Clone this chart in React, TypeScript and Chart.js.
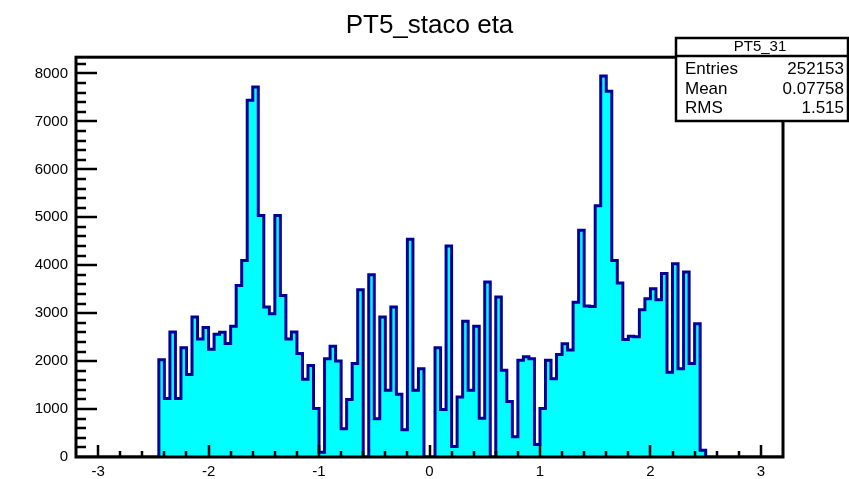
import { useEffect, useRef } from 'react';
import { Chart, registerables } from 'chart.js';

Chart.register(...registerables);

// Histogram "PT5_staco eta": 0.05-wide bins, first filled bin starts at -2.45
const histTitle = 'PT5_staco eta';
const binLow = -2.45;
const binWidth = 0.05;
const counts = [
  2030, 1220, 2610, 1220, 2280, 1720, 2920, 2460, 2700, 2250,
  2560, 2600, 2370, 2730, 3580, 4100, 7440, 7720, 5040, 3130,
  2990, 5040, 3370, 2460, 2610, 2160, 1620, 1910, 1010, 100,
  2050, 2310, 2000, 590, 1200, 1950, 3490, 0, 3800, 800,
  2920, 1390, 3130, 1310, 570, 4540, 1390, 1840, 0, 0,
  2280, 990, 4400, 220, 1250, 2830, 1390, 2730, 810, 3650,
  0, 3340, 1810, 1160, 420, 2020, 2090, 2050, 260, 1010,
  2020, 1630, 2140, 2360, 2230, 3230, 4730, 3150, 3140, 5240,
  7950, 7630, 4100, 3630, 2450, 2520, 2510, 3070, 3300, 3510,
  3280, 3830, 1770, 4030, 1840, 3860, 1950, 2780, 140,
];

// Axis ranges and labelled ticks
const xMin = -3.2;
const xMax = 3.2;
const yMin = 0;
const yMax = 8340;
const xMajorStep = 1;
const xMinorStep = 0.2;
const yMajorStep = 1000;
const yMinorStep = 200;
const yTickLabels = [0, 1000, 2000, 3000, 4000, 5000, 6000, 7000, 8000];

// Statistics box
const statName = 'PT5_31';
const statLabels = ['Entries', 'Mean', 'RMS'];
const statValues = ['252153', '0.07758', '1.515'];

const FONT = "'Liberation Sans', Arial, Helvetica, sans-serif";
const LINE_COLOR = '#000099';
const FILL_COLOR = '#00ffff';

// Step outline points: each point holds its bin value until the next edge
function buildPoints() {
  const pts: { x: number; y: number }[] = [{ x: xMin, y: 0 }];
  counts.forEach((c, i) => pts.push({ x: binLow + i * binWidth, y: c }));
  pts.push({ x: binLow + counts.length * binWidth, y: 0 });
  pts.push({ x: xMax, y: 0 });
  return pts;
}

// Frame, inward ticks and the statistics box, drawn on top of the histogram
const rootFrame = {
  id: 'rootFrame',
  afterDatasetsDraw(chart: any) {
    const { ctx, chartArea: a, scales } = chart;
    const xs = scales.x;
    const ys = scales.y;
    ctx.save();
    ctx.strokeStyle = '#000';
    ctx.lineCap = 'butt';

    // x ticks (inward from the bottom)
    ctx.lineWidth = 2.5;
    const nx = Math.round((xMax - xMin) / xMinorStep);
    for (let k = 1; k < nx; k++) {
      const v = xMin + k * xMinorStep;
      const major = Math.abs(Math.round(v / xMajorStep) * xMajorStep - v) < 1e-6;
      const len = major ? 12 : 6;
      const px = Math.round(xs.getPixelForValue(v));
      ctx.beginPath();
      ctx.moveTo(px, a.bottom);
      ctx.lineTo(px, a.bottom - len);
      ctx.stroke();
    }

    // y ticks (inward from the left)
    for (let v = yMinorStep; v <= yMax; v += yMinorStep) {
      const major = v % yMajorStep === 0;
      const len = major ? 21 : 10;
      const py = Math.round(ys.getPixelForValue(v));
      ctx.beginPath();
      ctx.moveTo(a.left, py);
      ctx.lineTo(a.left + len, py);
      ctx.stroke();
    }

    // frame
    ctx.lineWidth = 3;
    ctx.strokeRect(a.left, a.top, a.right - a.left, a.bottom - a.top);

    // statistics box
    const bx0 = 676;
    const bx1 = chart.width - 1;
    const by0 = 38;
    const by1 = 121;
    const sep = 56;
    ctx.fillStyle = '#fff';
    ctx.fillRect(bx0, by0, bx1 - bx0, by1 - by0);
    ctx.lineWidth = 2.5;
    ctx.strokeRect(bx0, by0, bx1 - bx0, by1 - by0);
    ctx.beginPath();
    ctx.moveTo(bx0, sep);
    ctx.lineTo(bx1, sep);
    ctx.stroke();

    ctx.fillStyle = '#000';
    ctx.textBaseline = 'middle';
    ctx.font = `15px ${FONT}`;
    ctx.textAlign = 'center';
    ctx.fillText(statName, (bx0 + bx1) / 2 - 2, 47);
    ctx.font = `17px ${FONT}`;
    const rowY = [69, 89, 108];
    statLabels.forEach((lab, i) => {
      ctx.textAlign = 'left';
      ctx.fillText(lab, bx0 + 9, rowY[i]);
      ctx.textAlign = 'right';
      ctx.fillText(statValues[i], bx1 - 4, rowY[i]);
    });
    ctx.restore();
  },
};

export default function App() {
  const canvasRef = useRef<HTMLCanvasElement | null>(null);

  useEffect(() => {
    const canvas = canvasRef.current;
    if (!canvas) return;
    const chart = new Chart(canvas, {
      type: 'line',
      data: {
        datasets: [
          {
            label: histTitle,
            data: buildPoints(),
            stepped: 'before',
            borderColor: LINE_COLOR,
            borderWidth: 3,
            backgroundColor: FILL_COLOR,
            fill: 'origin',
            pointRadius: 0,
            tension: 0,
          },
        ],
      },
      options: {
        animation: false,
        responsive: false,
        events: [],
        layout: { padding: { left: 0, right: 66, top: 0, bottom: 0 } },
        plugins: {
          legend: { display: false },
          tooltip: { enabled: false },
          title: {
            display: true,
            text: histTitle,
            fullSize: false,
            color: '#000',
            font: { family: FONT, size: 26, weight: 'normal', lineHeight: 1.2 },
            padding: { top: 10, bottom: 16 },
          },
        },
        scales: {
          x: {
            type: 'linear',
            min: xMin,
            max: xMax,
            grid: { display: false, drawTicks: false },
            border: { display: false },
            ticks: {
              stepSize: xMajorStep,
              includeBounds: false,
              padding: 6,
              color: '#000',
              font: { family: FONT, size: 15 },
              maxRotation: 0,
            },
            afterFit: (s: any) => {
              s.height = 22;
            },
          },
          y: {
            type: 'linear',
            min: yMin,
            max: yMax,
            grid: { display: false, drawTicks: false },
            border: { display: false },
            ticks: {
              padding: 8,
              color: '#000',
              font: { family: FONT, size: 15 },
              callback: (v: any) => String(v),
            },
            afterBuildTicks: (s: any) => {
              s.ticks = yTickLabels.map((v) => ({ value: v }));
            },
            afterFit: (s: any) => {
              s.width = 76;
            },
          },
        },
      },
      plugins: [rootFrame],
    });
    return () => chart.destroy();
  }, []);

  return (
    <div style={{ position: 'absolute', left: 0, top: 0, width: 849, height: 479, background: '#fff' }}>
      <canvas ref={canvasRef} width={849} height={479} style={{ display: 'block' }} />
    </div>
  );
}
